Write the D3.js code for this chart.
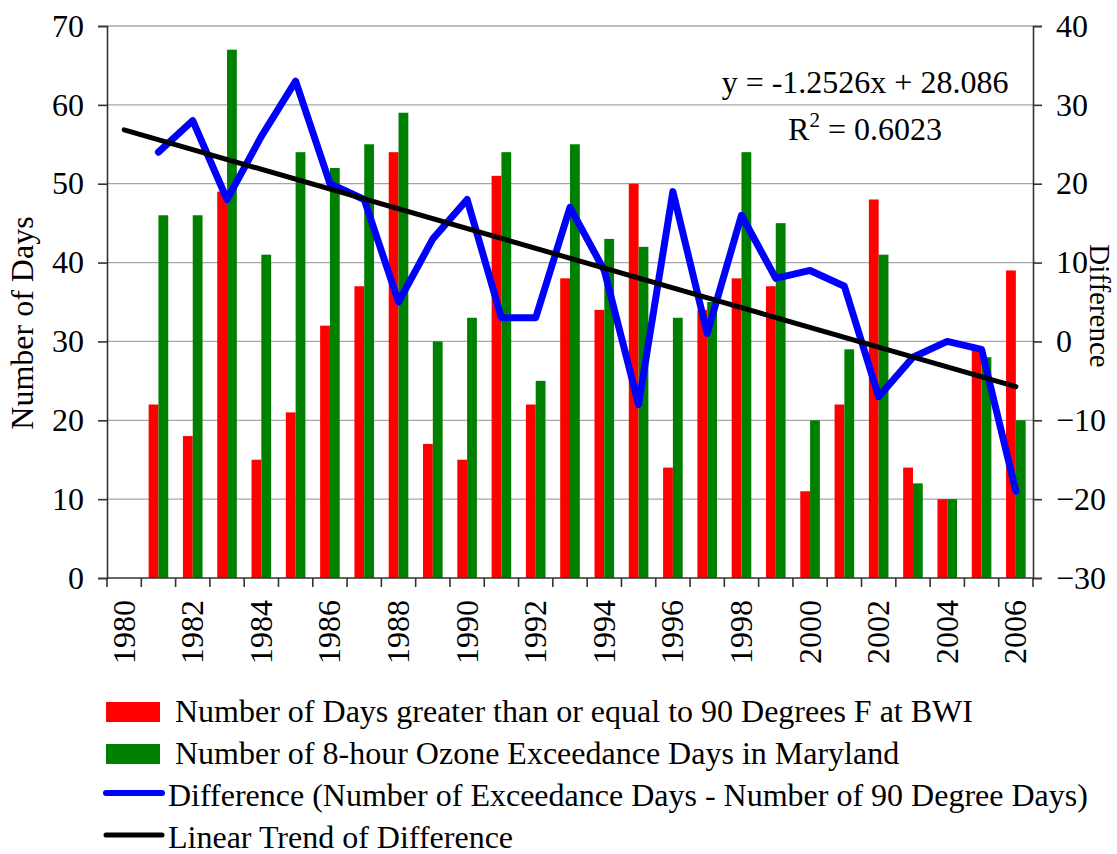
<!DOCTYPE html>
<html>
<head>
<meta charset="utf-8">
<script src="https://cdn.jsdelivr.net/npm/d3@7"></script>
<style>
  html, body { margin: 0; padding: 0; background: #fff; }
</style>
</head>
<body>
<svg id="chart" width="1117" height="854" font-family="Liberation Serif, Times New Roman, serif"></svg>
<script>
// 年（カテゴリ）
const years = d3.range(1980, 2007);
const yearLabels = years.filter(y => y % 2 === 0);

// BWIで90°F以上の日数
const heatDays = [null, 22, 18, 49, 15, 21, 32, 37, 54, 17, 15, 51, 22, 38, 34, 50, 14, 34, 38, 37, 11, 22, 48, 14, 10, 29, 39];
// メリーランド州の8時間オゾン超過日数
const ozoneDays = [null, 46, 46, 67, 41, 54, 52, 55, 59, 30, 33, 54, 25, 55, 43, 42, 33, 35, 54, 45, 20, 29, 41, 12, 10, 28, 20];
// 差（超過日数 - 90度日数）
const diffDays = [null, 24, 28, 18, 26, 33, 20, 18, 5, 13, 18, 3, 3, 17, 9, -8, 19, 1, 16, 8, 9, 7, -7, -2, 0, -1, -19];

// 線形トレンド
const trendSlope = -1.2526;
const trendIntercept = 28.086;
const trendR2 = 0.6023;

const leftTicks = d3.range(0, 71, 10);
const rightTicks = d3.range(-30, 41, 10);

const legendItems = [
    { label: 'Number of Days greater than or equal to 90 Degrees F at BWI', color: '#ff0000', kind: 'rect' },
    { label: 'Number of 8-hour Ozone Exceedance Days in Maryland', color: '#008000', kind: 'rect' },
    { label: 'Difference (Number of Exceedance Days - Number of 90 Degree Days)', color: '#0000ff', kind: 'line' },
    { label: 'Linear Trend of Difference', color: '#000000', kind: 'line' }
];

const FONT = 'Liberation Serif, Times New Roman, serif';
const FS = 32;

const plot = { left: 107, right: 1033, top: 26, bottom: 578 };
const svg = d3.select('#chart');

const x = d3.scaleBand().domain(years).range([plot.left, plot.right]).paddingInner(0).paddingOuter(0);
const yL = d3.scaleLinear().domain([0, 70]).range([plot.bottom, plot.top]);
const yR = d3.scaleLinear().domain([-30, 40]).range([plot.bottom, plot.top]);

const barW = x.bandwidth() / 3.5;
const cx = (yr) => x(yr) + x.bandwidth() / 2;

// グリッド線
svg.append('g')
    .selectAll('line')
    .data(leftTicks.filter(t => t > 0))
    .join('line')
    .attr('x1', plot.left).attr('x2', plot.right)
    .attr('y1', d => yL(d)).attr('y2', d => yL(d))
    .attr('stroke', '#a6a6a6').attr('stroke-width', 1.3);

// 棒グラフ
const barData = years.map((yr, i) => ({ yr, heat: heatDays[i], ozone: ozoneDays[i] })).filter(d => d.heat != null);
svg.append('g').selectAll('rect.heat')
    .data(barData).join('rect')
    .attr('class', 'heat')
    .attr('x', d => cx(d.yr) - barW)
    .attr('y', d => yL(d.heat))
    .attr('width', barW)
    .attr('height', d => yL(0) - yL(d.heat))
    .attr('fill', '#ff0000');
svg.append('g').selectAll('rect.ozone')
    .data(barData).join('rect')
    .attr('class', 'ozone')
    .attr('x', d => cx(d.yr))
    .attr('y', d => yL(d.ozone))
    .attr('width', barW)
    .attr('height', d => yL(0) - yL(d.ozone))
    .attr('fill', '#008000');

// 左軸
const axL = svg.append('g')
    .attr('transform', `translate(${plot.left},0)`)
    .call(d3.axisLeft(yL).tickValues(leftTicks).tickSize(9).tickPadding(14));
// 右軸
const axR = svg.append('g')
    .attr('transform', `translate(${plot.right},0)`)
    .call(d3.axisRight(yR).tickValues(rightTicks).tickSize(9).tickPadding(14));
// 下軸
const axB = svg.append('g')
    .attr('transform', `translate(0,${plot.bottom})`)
    .call(d3.axisBottom(x).tickValues(yearLabels).tickSize(0).tickPadding(0));

[axL, axR, axB].forEach(ax => {
    ax.attr('font-family', FONT).attr('font-size', FS);
    ax.select('.domain').attr('stroke', '#333').attr('stroke-width', 1.6);
    ax.selectAll('.tick line').attr('stroke', '#333').attr('stroke-width', 1.6);
    ax.selectAll('text').attr('fill', '#000');
});
axB.select('.domain').attr('d', `M${plot.left},0H${plot.right}`);
axB.selectAll('.tick text')
    .attr('transform', 'rotate(-90)')
    .attr('x', -22).attr('y', 0).attr('dy', '0.33em')
    .attr('text-anchor', 'end');

// 下軸の目盛り（カテゴリ境界）
svg.append('g').selectAll('line')
    .data(years.concat([null]))
    .join('line')
    .attr('x1', (d, i) => plot.left + i * x.step())
    .attr('x2', (d, i) => plot.left + i * x.step())
    .attr('y1', plot.bottom).attr('y2', plot.bottom + 9)
    .attr('stroke', '#333').attr('stroke-width', 1.6);

// 差の折れ線
const diffData = years.map((yr, i) => ({ yr, v: diffDays[i] })).filter(d => d.v != null);
svg.append('path')
    .datum(diffData)
    .attr('fill', 'none')
    .attr('stroke', '#0000ff')
    .attr('stroke-width', 7)
    .attr('stroke-linejoin', 'round')
    .attr('stroke-linecap', 'round')
    .attr('d', d3.line().x(d => cx(d.yr)).y(d => yR(d.v)));

// トレンド線（x = 1..27）
const trendEnds = [years[0], years[years.length - 1]].map(yr => ({ yr, v: trendIntercept + trendSlope * (yr - years[0] + 1) }));
svg.append('path')
    .datum(trendEnds)
    .attr('fill', 'none')
    .attr('stroke', '#000')
    .attr('stroke-width', 5)
    .attr('stroke-linecap', 'round')
    .attr('d', d3.line().x(d => cx(d.yr)).y(d => yR(d.v)));

// 回帰式
svg.append('text')
    .attr('x', 865).attr('y', 93)
    .attr('text-anchor', 'middle')
    .attr('font-size', FS)
    .text(`y = ${trendSlope}x + ${trendIntercept}`);
const r2 = svg.append('text')
    .attr('x', 865).attr('y', 140)
    .attr('text-anchor', 'middle')
    .attr('font-size', FS);
r2.append('tspan').text('R');
r2.append('tspan').attr('dy', -13).attr('font-size', 21).text('2');
r2.append('tspan').attr('dy', 13).text(` = ${trendR2}`);

// 軸タイトル
svg.append('text')
    .attr('transform', 'translate(33,323) rotate(-90)')
    .attr('text-anchor', 'middle')
    .attr('font-size', FS)
    .text('Number of Days');
svg.append('text')
    .attr('transform', 'translate(1090,306) rotate(90)')
    .attr('text-anchor', 'middle')
    .attr('font-size', 29)
    .text('Difference');

// 凡例
const legend = svg.append('g').selectAll('g')
    .data(legendItems)
    .join('g')
    .attr('transform', (d, i) => `translate(0,${722 + i * 42})`);
legend.filter(d => d.kind === 'rect').append('rect')
    .attr('x', 106).attr('y', -20).attr('width', 54).attr('height', 20)
    .attr('fill', d => d.color);
legend.filter(d => d.kind === 'line').append('line')
    .attr('x1', 106).attr('x2', 162).attr('y1', -13).attr('y2', -13)
    .attr('stroke', d => d.color)
    .attr('stroke-width', d => d.color === '#000000' ? 5 : 6)
    .attr('stroke-linecap', 'round');
legend.append('text')
    .attr('x', d => d.kind === 'rect' ? 175 : 168)
    .attr('y', 0)
    .attr('font-size', FS)
    .text(d => d.label);
</script>
</body>
</html>
